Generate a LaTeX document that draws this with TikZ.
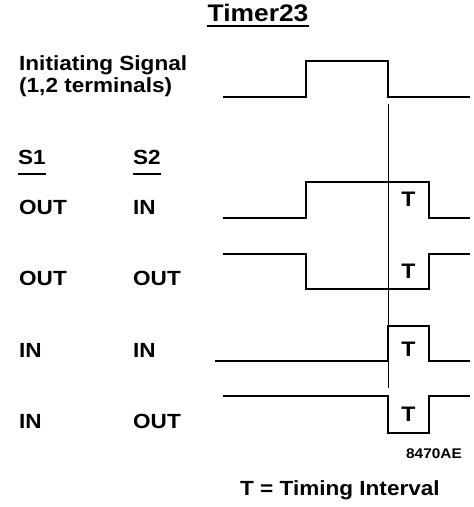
\documentclass[tikz,border=0pt]{standalone}
\usepackage{fontspec}
\setmainfont{Liberation Sans}[FakeStretch=1.1]
\usetikzlibrary{positioning}
\tikzset{rowtext/.style = {anchor=base west,
                     inner sep=0pt,
                     font=\fontsize{20.5}{22}\selectfont\bfseries
                    },
         titletext/.style = {
                     anchor=base,
                     inner sep=0pt,
                     font=\fontsize{24}{26}\selectfont\bfseries
         },
         tmark/.style = {
                     inner sep=0pt,
                     font=\fontsize{21}{22}\selectfont\bfseries
         },
         wave/.style = {
                     line width=1.8pt,
                     line join=miter
         },
         uline/.style = {line width=1.6pt},
         marker/.style = {line width=0.9pt}
        }

\begin{document}
\begin{tikzpicture}[x=1pt,y=-1pt]
        \useasboundingbox (0,0) rectangle (474,507);
        \node[titletext] (timer) at (258,21) {Timer23};
        \draw[uline] ([yshift=-5pt]timer.base west) -- ([yshift=-5pt]timer.base east);

        \node[rowtext,align=left] (initsig) at (19,92) {Initiating Signal\\(1,2 terminals)};

        \node[rowtext] (s1) at (18,164) {S1};
        \node[rowtext] (s2) at (133,164) {S2};
        \draw[uline] ([yshift=-10pt]s1.base west) -- ([yshift=-10pt]s1.base east);
        \draw[uline] ([yshift=-10pt]s2.base west) -- ([yshift=-10pt]s2.base east);

        \node[rowtext] (s1a) at (19,214) {OUT};
        \node[rowtext] (s2a) at (133,214) {IN};
        \node[rowtext] (s1b) at (19,285) {OUT};
        \node[rowtext] (s2b) at (133,285) {OUT};
        \node[rowtext] (s1c) at (19,357) {IN};
        \node[rowtext] (s2c) at (133,357) {IN};
        \node[rowtext] (s1d) at (19,428) {IN};
        \node[rowtext] (s2d) at (133,428) {OUT};

        % waveforms
        \draw[wave] (223,97) -- (306,97) |- (388,61) |- (470,97);
        \draw[wave] (223,218) -- (306,218) |- (429,182) |- (470,218);
        \draw[wave] (223,254) -- (306,254) |- (429,289) |- (470,254);
        \draw[wave] (215,361) -- (388,361) |- (429,326) |- (470,361);
        \draw[wave] (223,396) -- (388,396) |- (429,433) |- (470,396);
        \draw[marker] (388,104) -- (388,388);

        \node[tmark] (ta) at (408.5,199) {T};
        \node[tmark] (tb) at (408.5,271) {T};
        \node[tmark] (tc) at (408.5,349) {T};
        \node[tmark] (td) at (408.5,414) {T};

        \node[anchor=base east,inner sep=0pt,font=\fontsize{14}{15}\selectfont\bfseries] (fig) at (462,458) {8470AE};
        \node[rowtext] (legend) at (240,495) {T = Timing Interval};
    \end{tikzpicture}
\end{document}
